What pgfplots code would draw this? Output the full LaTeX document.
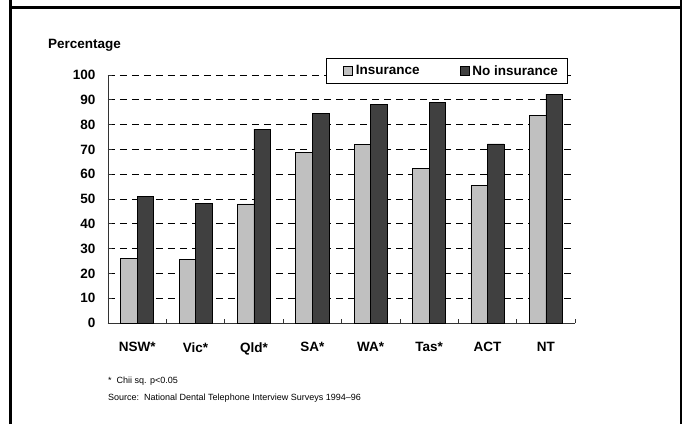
\documentclass[border=0pt]{standalone}
\usepackage{fontspec}
\setmainfont{Liberation Sans}
\usepackage{pgfplots}
\pgfplotsset{compat=1.18}
\definecolor{lightbar}{HTML}{C0C0C0}
\definecolor{darkbar}{HTML}{404040}
\newcommand{\bigbf}{\bfseries\fontsize{13.5}{15}\selectfont}
\begin{document}
\begin{tikzpicture}
\begin{axis}[
  at={(0pt,0pt)}, anchor=south west,
  scale only axis, width=467pt, height=248pt,
  xmin=-0.5, xmax=7.5, ymin=0, ymax=100,
  axis x line*=bottom, axis y line*=left,
  axis line style={-, line width=0.8pt, black!80},
  ytick={0,10,...,100},
  ymajorgrids,
  grid style={black, line width=0.7pt, dash pattern=on 7pt off 5pt},
  xtick={0,...,7},
  xticklabels={NSW*,Vic*,Qld*,SA*,WA*,Tas*,ACT,NT},
  minor xtick={-0.5,0.5,...,7.5},
  tick align=inside,
  major tick length=4pt, minor tick length=4pt,
  x tick style={draw=none},
  minor x tick style={draw=black!80, line width=0.7pt},
  y tick style={black!80, line width=0.7pt},
  xticklabel style={font=\bigbf, yshift=-16pt},
  yticklabel style={font=\bigbf, xshift=-9pt},
  /pgf/number format/assume math mode=true,
  legend columns=2,
  legend style={at={(0.4668,1.0685)}, anchor=north west, draw=black, line width=0.6pt,
    fill=white, font=\bigbf, inner xsep=8pt, inner ysep=5pt,
    /tikz/every even column/.append style={column sep=29pt}},
  legend image code/.code={\path (0pt,0pt) (19pt,0pt); \draw[#1, draw=black, line width=0.5pt] (9pt,-4.5pt) rectangle (18pt,4.5pt);},
]
\addplot[ybar, bar width=0.283, bar shift=-0.1415, fill=lightbar, draw=black, line width=0.6pt]
  coordinates {(0,26.0) (1,25.6) (2,48.0) (3,68.9) (4,71.9) (5,62.4) (6,55.5) (7,83.6)};
\addlegendentry{Insurance}
\addplot[ybar, bar width=0.283, bar shift=0.1415, fill=darkbar, draw=black, line width=0.6pt]
  coordinates {(0,50.9) (1,48.1) (2,78.2) (3,84.5) (4,88.0) (5,89.0) (6,72.2) (7,92.3)};
\addlegendentry{No insurance}
\end{axis}
\node[anchor=west, font=\bigbf, inner sep=0pt] at (-60pt,278pt) {Percentage};
\node[anchor=west, font=\fontsize{9}{10}\selectfont, inner sep=0pt] at (0pt,-58.5pt) {*\ \ Chii sq. p<0.05};
\node[anchor=west, font=\fontsize{9}{10}\selectfont, inner sep=0pt] at (0pt,-75pt) {Source:\ \ National Dental Telephone Interview Surveys 1994--96};
\draw[line width=2.2pt] (-97.5pt,-101pt) -- (-97.5pt,323pt);
\draw[line width=2.2pt] (573pt,-101pt) -- (573pt,323pt);
\draw[line width=2.2pt] (-97.5pt,315.5pt) -- (573pt,315.5pt);
\pgfresetboundingbox
\path[use as bounding box] (-108pt,-101pt) rectangle (581pt,323pt);
\end{tikzpicture}
\end{document}
